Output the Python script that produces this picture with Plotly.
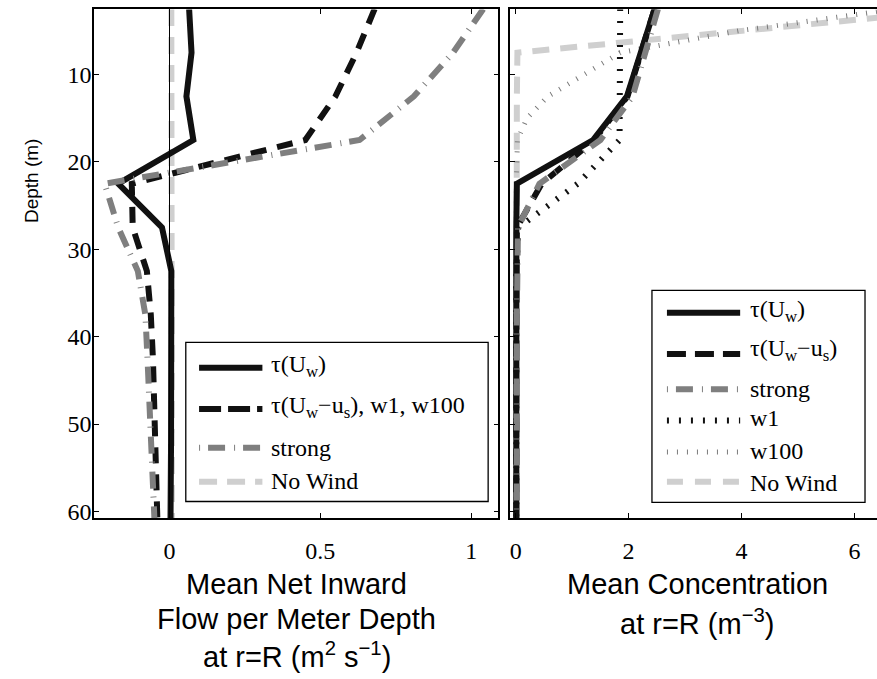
import plotly.graph_objects as go

# ---------------- data ----------------
depth = [2.5, 7.5, 12.5, 17.5, 22.5, 27.5, 32.5, 37.5, 42.5, 47.5, 52.5, 57.5, 62.5]
depth_w100 = [2.5, 5.0, 7.5, 12.5, 15.0, 17.5, 22.5, 27.5, 32.5, 37.5, 42.5, 47.5, 52.5, 57.5, 62.5]

# Left panel: mean net inward flow per meter depth (m^2 s^-1)
flow_tau_uw = [0.065, 0.073, 0.056, 0.079, -0.170, -0.025, 0.006, 0.007, 0.007, 0.006, 0.005, 0.004, 0.003]
flow_tau_uw_us = [0.68, 0.62, 0.55, 0.45, -0.125, -0.122, -0.075, -0.062, -0.055, -0.050, -0.046, -0.042, -0.039]
flow_strong = [1.04, 0.94, 0.81, 0.63, -0.215, -0.170, -0.105, -0.080, -0.073, -0.066, -0.060, -0.053, -0.048]
flow_nowind = [0.006, 0.006, 0.007, 0.007, 0.007, 0.008, 0.008, 0.008, 0.008, 0.008, 0.008, 0.008, 0.008]

# Right panel: mean concentration (m^-3)
conc_tau_uw = [2.46, 2.21, 1.97, 1.37, 0.02, 0.01, 0.01, 0.01, 0.01, 0.01, 0.01, 0.01, 0.01]
conc_tau_uw_us = [2.46, 2.22, 1.98, 1.39, 0.46, 0.02, 0.01, 0.01, 0.01, 0.01, 0.01, 0.01, 0.01]
conc_strong = [2.52, 2.30, 2.07, 1.50, 0.42, 0.04, 0.02, 0.02, 0.02, 0.02, 0.02, 0.02, 0.02]
conc_w1 = [1.85, 1.85, 1.85, 1.84, 1.10, 0.05, 0.01, 0.01, 0.01, 0.01, 0.01, 0.01, 0.01]
conc_w100 = [6.75, 3.95, 1.85, 0.57, 0.20, 0.03, 0.01, 0.01, 0.01, 0.01, 0.01, 0.01, 0.01, 0.01, 0.01]
conc_nowind = [8.0, 0.03, 0.02, 0.02, 0.02, 0.01, 0.01, 0.01, 0.01, 0.01, 0.01, 0.01, 0.01]

depth_ticks = [10, 20, 30, 40, 50, 60]
flow_ticks = [0, 0.5, 1]
flow_ticktext = ["0", "0.5", "1"]
conc_ticks = [0, 2, 4, 6]
conc_ticktext = ["0", "2", "4", "6"]

left_legend_labels = ["τ(U<sub>w</sub>)", "τ(U<sub>w</sub>−u<sub>s</sub>), w1, w100", "strong", "No Wind"]
right_legend_labels = ["τ(U<sub>w</sub>)", "τ(U<sub>w</sub>−u<sub>s</sub>)", "strong", "w1", "w100", "No Wind"]

left_title_lines = ["Mean Net Inward", "Flow per Meter Depth", "at r=R (m<sup>2</sup> s<sup>−1</sup>)"]
right_title_lines = ["Mean Concentration", "at r=R (m<sup>−3</sup>)"]
ylabel = "Depth (m)"

# ---------------- styles ----------------
W, H = 877, 679
S_SOLID = dict(color="#111111", width=6, dash="solid")
S_DASH = dict(color="#111111", width=6, dash="16px,11px")
S_STRONG = dict(color="#7f7f7f", width=6, dash="17px,8px,1px,9px")
S_NOWIND = dict(color="#cfcfcf", width=6, dash="17px,11px")
S_W1 = dict(color="#111111", width=6, dash="2px,10px")
S_W100 = dict(color="#7a7a7a", width=5, dash="1px,9px")

SERIF = "Liberation Serif"
SANS = "Liberation Sans"
TICKFONT = dict(family=SERIF, size=24, color="black")


def px(x):
    return x / W


def py(y):
    return 1 - y / H


fig = go.Figure()

# left panel traces
for xs, st in [(flow_nowind, S_NOWIND), (flow_tau_uw, S_SOLID), (flow_tau_uw_us, S_DASH), (flow_strong, S_STRONG)]:
    fig.add_trace(go.Scatter(x=xs, y=depth, mode="lines", line=st, showlegend=False,
                             xaxis="x", yaxis="y", hoverinfo="skip"))

# right panel traces
for xs, ys, st in [(conc_nowind, depth, S_NOWIND), (conc_w100, depth_w100, S_W100), (conc_w1, depth, S_W1),
                   (conc_tau_uw, depth, S_SOLID), (conc_tau_uw_us, depth, S_DASH), (conc_strong, depth, S_STRONG)]:
    fig.add_trace(go.Scatter(x=xs, y=ys, mode="lines", line=st, showlegend=False,
                             xaxis="x2", yaxis="y2", hoverinfo="skip"))

ydom = [py(523.5), py(9.5)]
axis_common = dict(showline=True, linecolor="black", linewidth=1.5, ticks="inside", ticklen=5,
                   tickwidth=1, tickcolor="black", showgrid=False, zeroline=False)

fig.update_layout(
    width=W, height=H, margin=dict(l=0, r=0, t=0, b=0),
    paper_bgcolor="white", plot_bgcolor="white",
    xaxis=dict(domain=[px(93.2), px(497.9)], range=[-0.25, 1.09], tickvals=flow_ticks,
               ticktext=flow_ticktext, mirror="allticks", anchor="y", ticklabelstandoff=10,
               tickfont=TICKFONT, **axis_common),
    yaxis=dict(domain=ydom, range=[60.77, 2.55], tickvals=depth_ticks, mirror="allticks",
               anchor="x", ticklabelstandoff=-4, tickfont=TICKFONT, **axis_common),
    xaxis2=dict(domain=[px(510), 1.0], range=[-0.094, 6.40], tickvals=conc_ticks,
                ticktext=conc_ticktext, mirror="allticks", anchor="y2", ticklabelstandoff=10,
                tickfont=TICKFONT, **axis_common),
    yaxis2=dict(domain=ydom, range=[60.77, 2.55], tickvals=depth_ticks, mirror=False,
                showticklabels=False, anchor="x2", **axis_common),
)

shapes = []
# zero reference line in left panel
shapes.append(dict(type="line", xref="x", yref="y domain", x0=0, x1=0, y0=0, y1=1,
                   line=dict(color="black", width=1), layer="above"))

annotations = []


def add_legend(box, rows, sample_x, text_x, labels, styles, text_ys):
    x0, y0, x1, y1 = box
    shapes.append(dict(type="rect", xref="paper", yref="paper", x0=px(x0), x1=px(x1), y0=py(y1), y1=py(y0),
                       line=dict(color="black", width=1.3), fillcolor="white", layer="above"))
    for ry, st, lab, ty in zip(rows, styles, labels, text_ys):
        shapes.append(dict(type="line", xref="paper", yref="paper", x0=px(sample_x[0]), x1=px(sample_x[1]),
                           y0=py(ry), y1=py(ry), line=st, layer="above"))
        annotations.append(dict(xref="paper", yref="paper", x=px(text_x), y=py(ty), xanchor="left",
                                yanchor="middle", text=lab, showarrow=False,
                                font=dict(family=SERIF, size=24, color="black")))


LEG_DASH = dict(S_DASH, dash="22px,7px")
LEG_NOWIND = dict(S_NOWIND, dash="18px,10px")
LEG_STRONG = dict(S_STRONG, dash="1px,8px,17px,9px")

add_legend((185, 346, 487.7, 506.7), [371.7, 413.3, 452.3, 486.7], (198.3, 261.7), 268,
           left_legend_labels, [S_SOLID, LEG_DASH, LEG_STRONG, LEG_NOWIND],
           [370, 411, 453, 486])
add_legend((651.7, 293.3, 865, 507.7), [316, 357.7, 393.3, 425, 456.7, 486.7], (666.7, 740), 748,
           right_legend_labels, [S_SOLID, dict(S_DASH, dash="19px,9px"), LEG_STRONG, S_W1, S_W100,
                                 dict(S_NOWIND, dash="16px,12px")],
           [314, 354, 393, 422, 456, 488])

# axis titles
for txt, yy in zip(left_title_lines, [590, 625, 662]):
    annotations.append(dict(xref="paper", yref="paper", x=px(296), y=py(yy), xanchor="center",
                            yanchor="middle", text=txt, showarrow=False,
                            font=dict(family=SANS, size=29, color="black")))
for txt, yy in zip(right_title_lines, [590, 628]):
    annotations.append(dict(xref="paper", yref="paper", x=px(697), y=py(yy), xanchor="center",
                            yanchor="middle", text=txt, showarrow=False,
                            font=dict(family=SANS, size=29, color="black")))
annotations.append(dict(xref="paper", yref="paper", x=px(30), y=py(183), xanchor="center",
                        yanchor="middle", text=ylabel, textangle=-90, showarrow=False,
                        font=dict(family=SANS, size=19, color="black")))

fig.update_layout(shapes=shapes, annotations=annotations)

fig.write_html("out.html")
